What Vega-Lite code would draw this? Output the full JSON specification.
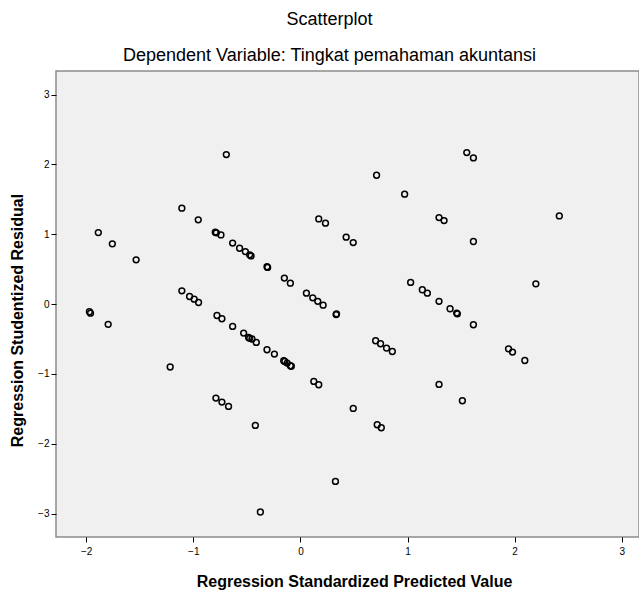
{
  "$schema": "https://vega.github.io/schema/vega-lite/v6.json",
  "autosize": {"type": "none"},
  "padding": {"left": 56, "top": 71, "right": 0, "bottom": 55},
  "width": 583,
  "height": 466,
  "background": "white",
  "title": {
    "text": "Scatterplot",
    "subtitle": "Dependent Variable: Tingkat pemahaman akuntansi",
    "anchor": "middle",
    "dx": -18,
    "font": "Liberation Sans",
    "fontSize": 18,
    "fontWeight": "normal",
    "color": "#000000",
    "subtitleFont": "Liberation Sans",
    "subtitleFontSize": 18,
    "subtitleColor": "#000000",
    "subtitlePadding": 18,
    "offset": 6
  },
  "config": {
    "view": {"fill": "#f0f0f0", "stroke": "#8c8c8c", "strokeWidth": 1.5},
    "axis": {
      "grid": false,
      "domain": false,
      "tickColor": "#000000",
      "tickSize": 5,
      "labelPadding": 2,
      "labelFont": "Liberation Sans",
      "labelFontSize": 10,
      "labelColor": "#000000",
      "titleFont": "Liberation Sans",
      "titleFontSize": 16,
      "titleFontWeight": "bold",
      "titleColor": "#000000"
    }
  },
  "data": {
    "values": [
      {"x": -1.97, "y": -0.11}, {"x": -1.96, "y": -0.13}, {"x": -1.795, "y": -0.29},
      {"x": -1.887, "y": 1.024}, {"x": -1.756, "y": 0.863}, {"x": -1.534, "y": 0.634},
      {"x": -1.216, "y": -0.9}, {"x": -1.107, "y": 1.373}, {"x": -0.954, "y": 1.206},
      {"x": -0.692, "y": 2.14}, {"x": -0.795, "y": 1.03}, {"x": -0.785, "y": 1.02},
      {"x": -0.742, "y": 0.99}, {"x": -0.633, "y": 0.873}, {"x": -0.568, "y": 0.8},
      {"x": -0.514, "y": 0.752}, {"x": -0.474, "y": 0.705}, {"x": -0.461, "y": 0.69},
      {"x": -0.312, "y": 0.535}, {"x": -0.306, "y": 0.525}, {"x": -0.15, "y": 0.372},
      {"x": -0.094, "y": 0.3}, {"x": 0.056, "y": 0.157}, {"x": 0.115, "y": 0.09},
      {"x": 0.162, "y": 0.04}, {"x": 0.212, "y": -0.015}, {"x": 0.337, "y": -0.14},
      {"x": 0.333, "y": -0.15}, {"x": 0.171, "y": 1.22}, {"x": 0.234, "y": 1.159},
      {"x": -1.107, "y": 0.19}, {"x": -1.035, "y": 0.109}, {"x": -0.992, "y": 0.071},
      {"x": -0.951, "y": 0.023}, {"x": -0.779, "y": -0.163}, {"x": -0.733, "y": -0.21},
      {"x": -0.633, "y": -0.32}, {"x": -0.53, "y": -0.415}, {"x": -0.484, "y": -0.478},
      {"x": -0.474, "y": -0.49}, {"x": -0.452, "y": -0.5}, {"x": -0.412, "y": -0.549},
      {"x": -0.312, "y": -0.654}, {"x": -0.243, "y": -0.715}, {"x": -0.156, "y": -0.811},
      {"x": -0.146, "y": -0.82}, {"x": -0.124, "y": -0.844}, {"x": -0.094, "y": -0.883},
      {"x": -0.085, "y": -0.89}, {"x": 0.125, "y": -1.107}, {"x": 0.171, "y": -1.155},
      {"x": -0.789, "y": -1.345}, {"x": -0.733, "y": -1.402}, {"x": -0.671, "y": -1.465},
      {"x": -0.421, "y": -1.737}, {"x": -0.374, "y": -2.976}, {"x": 0.327, "y": -2.538},
      {"x": 0.427, "y": 0.958}, {"x": 0.493, "y": 0.881}, {"x": 0.711, "y": 1.845},
      {"x": 0.973, "y": 1.574}, {"x": 1.294, "y": 1.239}, {"x": 1.341, "y": 1.196},
      {"x": 1.553, "y": 2.169}, {"x": 1.615, "y": 2.093}, {"x": 2.417, "y": 1.263},
      {"x": 1.615, "y": 0.896}, {"x": 1.029, "y": 0.31}, {"x": 1.138, "y": 0.205},
      {"x": 1.185, "y": 0.157}, {"x": 1.294, "y": 0.04}, {"x": 1.397, "y": -0.067},
      {"x": 1.459, "y": -0.129}, {"x": 1.465, "y": -0.139}, {"x": 1.615, "y": -0.296},
      {"x": 2.198, "y": 0.29}, {"x": 0.702, "y": -0.525}, {"x": 0.748, "y": -0.568},
      {"x": 0.804, "y": -0.63}, {"x": 0.858, "y": -0.678}, {"x": 1.943, "y": -0.64},
      {"x": 1.98, "y": -0.687}, {"x": 2.095, "y": -0.807}, {"x": 1.294, "y": -1.15},
      {"x": 1.512, "y": -1.383}, {"x": 0.493, "y": -1.493}, {"x": 0.717, "y": -1.727},
      {"x": 0.755, "y": -1.77}
    ]
  },
  "mark": {"type": "point", "shape": "circle", "filled": false, "color": "#000000", "size": 34, "strokeWidth": 1.5, "opacity": 1},
  "encoding": {
    "x": {
      "field": "x", "type": "quantitative",
      "scale": {"domain": [-2.282, 3.161], "nice": false, "zero": false},
      "axis": {"values": [-2, -1, 0, 1, 2, 3], "format": "d", "title": "Regression Standardized Predicted Value", "labelPadding": 4, "titlePadding": 17, "titleX": 298}
    },
    "y": {
      "field": "y", "type": "quantitative",
      "scale": {"domain": [-3.334, 3.337], "nice": false, "zero": false},
      "axis": {"values": [-3, -2, -1, 0, 1, 2, 3], "format": "d", "title": "Regression Studentized Residual", "titlePadding": 12, "titleY": 249}
    }
  }
}
